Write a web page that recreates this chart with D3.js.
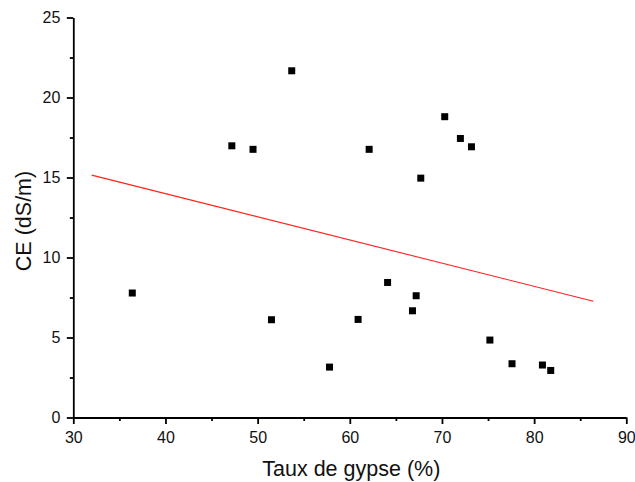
<!DOCTYPE html>
<html>
<head>
<meta charset="utf-8">
<script src="https://cdn.jsdelivr.net/npm/d3@7"></script>
<style>
  body { margin: 0; background: #fff; }
  svg { display: block; font-family: "Liberation Sans", Arial, sans-serif; }
</style>
</head>
<body>
<div id="chart-container"></div>
<script>
// Data
var gypse = [36.4, 47.2, 49.5, 53.7, 51.5, 57.8, 60.9, 62.1, 64.1, 66.8, 67.2, 67.7, 70.3, 72.0, 73.2, 75.2, 77.6, 80.9, 81.8];
var ce    = [7.78, 16.98, 16.76, 21.67, 6.11, 3.15, 6.13, 16.76, 8.44, 6.67, 7.61, 14.96, 18.8, 17.44, 16.92, 4.84, 3.36, 3.28, 2.94];

// fitted line (end points)
var fitX = [32.0, 86.43];
var fitY = [15.15, 7.27];

var xTicks = [30, 40, 50, 60, 70, 80, 90];
var yTicks = [0, 5, 10, 15, 20, 25];

var margin = { top: 17.5, right: 8.7, bottom: 64.5, left: 73.3 },
    width = 635 - margin.left - margin.right,
    height = 482 - margin.top - margin.bottom;

var svg = d3.select("#chart-container")
  .append("svg")
  .attr("width", width + margin.left + margin.right)
  .attr("height", height + margin.top + margin.bottom)
  .append("g")
  .attr("transform", "translate(" + margin.left + "," + margin.top + ")");

var x = d3.scaleLinear().domain([30, 90]).range([0, width]);
var y = d3.scaleLinear().domain([0, 25]).range([height, 0]);

// minor ticks
svg.append("g")
  .attr("class", "minor")
  .attr("transform", "translate(0," + height + ")")
  .call(d3.axisBottom(x).tickValues(d3.range(35, 90, 10)).tickSize(3.5).tickFormat(""));
svg.append("g")
  .attr("class", "minor")
  .call(d3.axisLeft(y).tickValues(d3.range(2.5, 25, 5)).tickSize(3.5).tickFormat(""));

// main axes
var xAxis = svg.append("g")
  .attr("transform", "translate(0," + height + ")")
  .call(d3.axisBottom(x).tickValues(xTicks).tickSize(6.5).tickSizeOuter(0).tickPadding(8));

var yAxis = svg.append("g")
  .call(d3.axisLeft(y).tickValues(yTicks).tickSize(6.5).tickSizeOuter(0).tickPadding(6.5));

svg.selectAll(".minor .domain").remove();
svg.selectAll(".domain, .tick line")
  .attr("stroke", "#000")
  .attr("stroke-width", 1.8);
svg.selectAll(".tick text")
  .attr("fill", "#111")
  .style("font-size", "16px")
  .style("font-family", "'Liberation Sans', Arial, sans-serif");

// regression line
svg.append("line")
  .attr("x1", x(fitX[0]))
  .attr("y1", y(fitY[0]))
  .attr("x2", x(fitX[1]))
  .attr("y2", y(fitY[1]))
  .attr("stroke", "#ff2020")
  .attr("stroke-width", 1.1);

// points
var size = 7;
svg.selectAll(".pt")
  .data(gypse)
  .enter().append("rect")
  .attr("class", "pt")
  .attr("x", function(d) { return x(d) - size / 2; })
  .attr("y", function(d, i) { return y(ce[i]) - size / 2; })
  .attr("width", size)
  .attr("height", size)
  .attr("fill", "#000");

// axis titles
svg.append("text")
  .attr("x", width / 2 + 1.5)
  .attr("y", 476 - margin.top)
  .attr("text-anchor", "middle")
  .style("font-size", "21.5px")
  .attr("fill", "#111")
  .text("Taux de gypse (%)");

svg.append("text")
  .attr("transform", "translate(" + (30.5 - margin.left) + "," + (221 - margin.top) + ") rotate(-90)")
  .attr("text-anchor", "middle")
  .style("font-size", "21.5px")
  .attr("fill", "#111")
  .text("CE (dS/m)");
</script>
</body>
</html>
